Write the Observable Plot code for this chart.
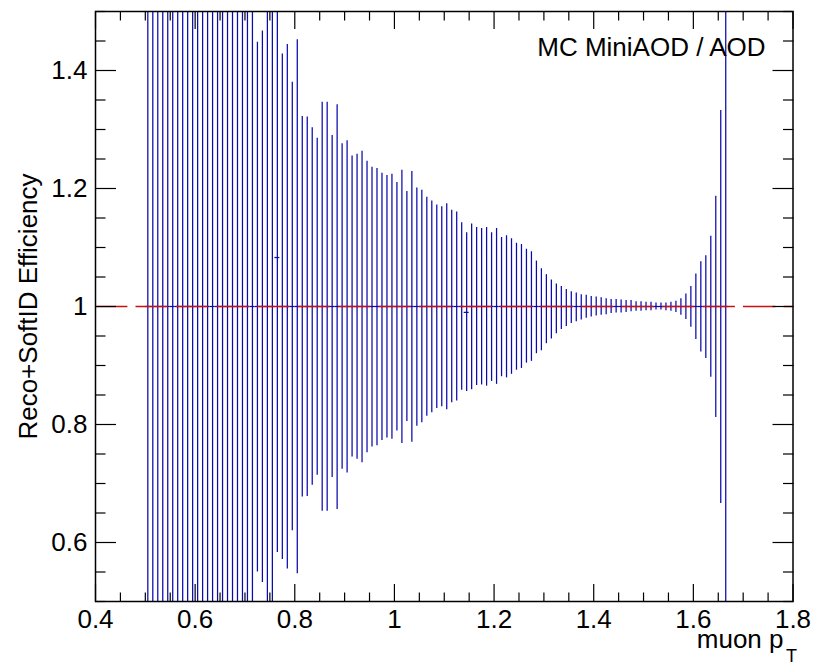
<!DOCTYPE html>
<html><head><meta charset="utf-8">
<script src="https://cdn.jsdelivr.net/npm/d3@7"></script>
<script src="https://cdn.jsdelivr.net/npm/@observablehq/plot@0.6"></script>
<style>body{margin:0;background:#fff}#chart{width:820px;height:664px}</style>
</head><body><div id="chart"></div>
<script>
// bin centres (muon pT)
const binCenters = [
0.505,0.515,0.525,0.535,0.545,0.555,0.565,0.575,0.585,0.595,
0.605,0.615,0.625,0.635,0.645,0.655,0.665,0.675,0.685,0.695,
0.705,0.715,0.725,0.735,0.745,0.755,0.765,0.775,0.785,0.795,
0.805,0.815,0.825,0.835,0.845,0.855,0.865,0.875,0.885,0.895,
0.905,0.915,0.925,0.935,0.945,0.955,0.965,0.975,0.985,0.995,
1.005,1.015,1.025,1.035,1.045,1.055,1.065,1.075,1.085,1.095,
1.105,1.115,1.125,1.135,1.145,1.155,1.165,1.175,1.185,1.195,
1.205,1.215,1.225,1.235,1.245,1.255,1.265,1.275,1.285,1.295,
1.305,1.315,1.325,1.335,1.345,1.355,1.365,1.375,1.385,1.395,
1.405,1.415,1.425,1.435,1.445,1.455,1.465,1.475,1.485,1.495,
1.505,1.515,1.525,1.535,1.545,1.555,1.565,1.575,1.585,1.595,
1.605,1.615,1.625,1.635,1.645,1.655,1.665];
const binHalfWidth = 0.005;
// central ratio values
const ratioValues = [
1,1,1,1,1,1,1,1,1,1,
1,1,1,1,1,1,1,1,1,1,
1,1,1,1,1,1,1.083,1,1,1,
1,1,1,1,1,1,1,1,1,1,
1,1,1,1,1,1,1,1,1,1,
1,1,1,1,1,1,1,1,1,1,
1,1,1,1,0.99,1,1,1,1,1,
1,1,1,1,1,1,1,1,1,1,
1,1,1,1,1,1,1,1,1,1,
1,1,1,1,1,1,1,1,1,1,
1,1,1,1,1,1,1,1,1,1,
1,1,1,1,1,1,1];
// upper ends of the error bars
const upperEnds = [
1.86,1.84,1.83,1.82,1.80,1.79,1.78,1.76,1.75,1.74,
1.72,1.71,1.70,1.68,1.67,1.66,1.64,1.63,1.62,1.60,
1.58,1.56,1.448,1.467,1.56,1.55,1.62,1.428,1.444,1.380,
1.452,1.322,1.321,1.303,1.285,1.346,1.346,1.290,1.342,1.276,
1.281,1.255,1.258,1.263,1.246,1.236,1.234,1.226,1.222,1.224,
1.210,1.231,1.195,1.229,1.201,1.197,1.185,1.179,1.172,1.169,
1.174,1.163,1.160,1.142,1.125,1.140,1.134,1.132,1.134,1.125,
1.132,1.117,1.120,1.115,1.107,1.105,1.097,1.093,1.077,1.064,
1.054,1.045,1.038,1.034,1.029,1.025,1.023,1.020,1.019,1.017,
1.016,1.015,1.013,1.012,1.012,1.011,1.010,1.010,1.008,1.008,
1.007,1.007,1.006,1.006,1.006,1.007,1.009,1.013,1.021,1.034,
1.055,1.076,1.086,1.119,1.187,1.332,1.60];
// lower ends of the error bars
const lowerEnds = [
0.14,0.16,0.17,0.18,0.20,0.21,0.22,0.24,0.25,0.26,
0.28,0.29,0.30,0.32,0.33,0.34,0.36,0.37,0.38,0.40,
0.42,0.44,0.550,0.532,0.44,0.45,0.583,0.571,0.555,0.620,
0.547,0.677,0.678,0.697,0.714,0.653,0.653,0.710,0.656,0.724,
0.718,0.745,0.741,0.735,0.752,0.762,0.764,0.773,0.777,0.775,
0.789,0.768,0.805,0.770,0.797,0.803,0.814,0.820,0.827,0.830,
0.825,0.837,0.840,0.858,0.856,0.859,0.866,0.867,0.865,0.873,
0.868,0.881,0.879,0.885,0.892,0.895,0.904,0.907,0.920,0.925,
0.937,0.945,0.954,0.961,0.966,0.971,0.974,0.977,0.980,0.982,
0.984,0.985,0.986,0.988,0.989,0.989,0.990,0.991,0.992,0.992,
0.993,0.993,0.994,0.994,0.993,0.992,0.990,0.985,0.978,0.965,
0.944,0.923,0.912,0.880,0.812,0.666,0.40];

const referenceLevel = [1];
const xMajorTicks = [0.4,0.6,0.8,1.0,1.2,1.4,1.6,1.8];
const xMinorTicks = [0.45,0.5,0.55,0.65,0.7,0.75,0.85,0.9,0.95,1.05,1.1,1.15,1.25,1.3,1.35,1.45,1.5,1.55,1.65,1.7,1.75];
const yMajorTicks = [0.6,0.8,1.0,1.2,1.4];
const yMinorTicks = [0.5,0.55,0.65,0.7,0.75,0.85,0.9,0.95,1.05,1.1,1.15,1.25,1.3,1.35,1.45,1.5];
const titleText = "MC MiniAOD / AOD";
const yTitle = "Reco+SoftID Efficiency";
const xTitle = "muon p";
const xTitleSub = "T";

const rows = binCenters.map((x, i) => ({x, y: ratioValues[i], lo: lowerEnds[i], hi: upperEnds[i]}));
const blue = "#0a0aae";
const red = "#cc1010";
const fmt = d => String(+d.toFixed(1));
const font = "'Liberation Sans', Arial, Helvetica, sans-serif";

const chart = Plot.plot({
  width: 820, height: 664,
  marginLeft: 95, marginRight: 27.5, marginTop: 11, marginBottom: 63,
  x: {domain: [0.4, 1.8]},
  y: {domain: [0.5, 1.5]},
  style: {fontFamily: font, fontSize: "26px", color: "black", background: "white", overflow: "visible"},
  marks: [
    Plot.ruleX(rows, {x: "x", y1: "lo", y2: "hi", stroke: blue, strokeWidth: 1.25, clip: true}),
    Plot.ruleY(rows, {y: "y", x1: d => d.x - binHalfWidth, x2: d => d.x + binHalfWidth, stroke: blue, strokeWidth: 1.25, clip: true}),
    Plot.ruleY(referenceLevel, {y: d => d, x1: 0.4, x2: 1.8, stroke: red, strokeWidth: 1.5, strokeDasharray: "32.4,8.1"}),
    // inward ticks
    Plot.axisX(xMajorTicks, {anchor: "bottom", tickSize: -17, fill: "none", stroke: "black", strokeWidth: 1.2, label: null}),
    Plot.axisX(xMinorTicks, {anchor: "bottom", tickSize: -8.5, fill: "none", stroke: "black", strokeWidth: 1.2, label: null}),
    Plot.axisX(xMajorTicks, {anchor: "top", tickSize: -17, fill: "none", stroke: "black", strokeWidth: 1.2, label: null}),
    Plot.axisX(xMinorTicks, {anchor: "top", tickSize: -8.5, fill: "none", stroke: "black", strokeWidth: 1.2, label: null}),
    Plot.axisY(yMajorTicks, {anchor: "left", tickSize: -21, fill: "none", stroke: "black", strokeWidth: 1.2, label: null}),
    Plot.axisY(yMinorTicks, {anchor: "left", tickSize: -10.5, fill: "none", stroke: "black", strokeWidth: 1.2, label: null}),
    Plot.axisY(yMajorTicks, {anchor: "right", tickSize: -21, fill: "none", stroke: "black", strokeWidth: 1.2, label: null}),
    Plot.axisY(yMinorTicks, {anchor: "right", tickSize: -10.5, fill: "none", stroke: "black", strokeWidth: 1.2, label: null}),
    // tick labels
    Plot.axisX(xMajorTicks, {anchor: "bottom", tickSize: 0, tickPadding: 8, tickFormat: fmt, fontSize: 26, label: null}),
    Plot.axisY(yMajorTicks, {anchor: "left", tickSize: 0, tickPadding: 8, tickFormat: fmt, fontSize: 26, label: null}),
    Plot.frame({stroke: "black", strokeWidth: 1.5}),
    // titles
    Plot.text([titleText], {text: d => d, frameAnchor: "top-right", dx: -27.5, dy: 36, textAnchor: "end", lineAnchor: "middle", fontSize: 26}),
    Plot.text([yTitle], {text: d => d, frameAnchor: "left", dx: -67, rotate: -90, textAnchor: "middle", lineAnchor: "middle", fontSize: 26}),
    Plot.text([xTitle], {text: d => d, frameAnchor: "bottom-right", dx: -9.5, dy: 46, textAnchor: "end", lineAnchor: "bottom", fontSize: 26}),
    Plot.text([xTitleSub], {text: d => d, frameAnchor: "bottom-right", dx: 4, dy: 60, textAnchor: "end", lineAnchor: "bottom", fontSize: 18})
  ]
});
document.getElementById("chart").appendChild(chart);
</script>
</body></html>
